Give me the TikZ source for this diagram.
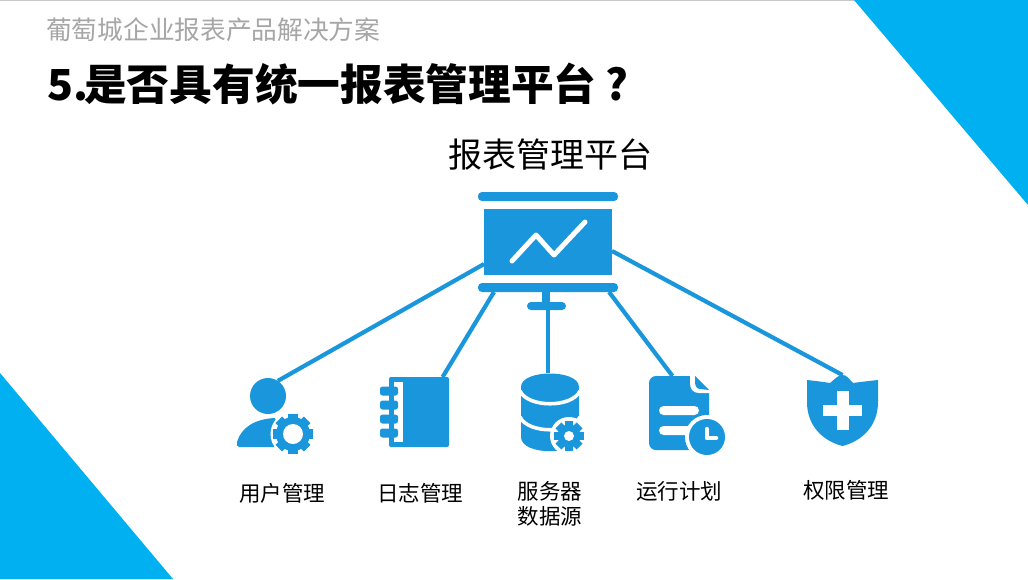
\documentclass[tikz,border=0pt]{standalone}
\usepackage{fontspec}
\setmainfont{Noto Sans CJK SC}
\usetikzlibrary{positioning,calc}
\definecolor{cyanbg}{HTML}{00B0F0}
\definecolor{icoblue}{HTML}{1996DC}
\definecolor{subgray}{HTML}{A6A6A6}
\tikzset{
  ico/.style={fill=icoblue,draw=none,inner sep=0pt,outer sep=0pt},
  bar/.style={ico,rounded corners=4pt,minimum width=140pt,minimum height=9pt},
  ghost/.style={inner sep=0pt,outer sep=0pt,draw=none},
  lnk/.style={draw=icoblue,line width=4.2pt},
  lbl/.style={font=\fontsize{21.5}{25}\selectfont,align=center,inner sep=0pt},
  gap/.style={draw=white,line width=3.6pt,line cap=round},
}
% tooth ring: centre x, centre y, tip radius, root radius, half width
\newcommand{\gearring}[5]{
  \foreach \a in {0,45,...,315}
    \fill[icoblue,rotate around={\a:(#1,#2)}] (#1-#5,#2-#3) rectangle (#1+#5,#2);
  \fill[icoblue] (#1,#2) circle[radius=#4];
}
\begin{document}
\begin{tikzpicture}[x=1pt,y=-1pt]
  \useasboundingbox (0,0) rectangle (1028,579);
  \fill[white] (0,0) rectangle (1028,579);
  \fill[black!22] (0,0) rectangle (1028,1);
  \fill[cyanbg] (854,0) -- (1028,0) -- (1028,205) -- cycle;
  \fill[cyanbg] (0,373) -- (173,579) -- (0,579) -- cycle;

  \node[anchor=west,inner sep=0pt,text=subgray,font=\fontsize{25.7}{30}\selectfont] (sub) at (46,30) {葡萄城企业报表产品解决方案};
  \node[anchor=west,inner sep=0pt,font=\fontsize{42.7}{50}\selectfont\bfseries] (title) at (47,84) {5.\hspace{-4pt}是否具有统一报表管理平台\hspace{9pt}?};
  \node[inner sep=0pt,font=\fontsize{34}{40}\selectfont] (head) at (550,155) {报表管理平台};

  % board
  \node[ico,minimum width=128pt,minimum height=66pt] (board) at (548,242) {};
  \node[bar,above=8pt of board] (topbar) {};
  \node[bar,below=8pt of board] (lowbar) {};
  \node[ico,rounded corners=4pt,minimum width=39pt,minimum height=8pt] (foot) at (546.5,306) {};
  \fill[icoblue] (542,290) rectangle (550,304);
  \draw[white,line width=5pt,line cap=round,line join=round] (512,261) -- (536,235) -- (554,255) -- (585,222);

  % icon anchors
  \node[ico,circle,minimum size=36pt] (user) at (268,396) {};
  \node[ico,rounded corners=2pt,minimum width=60pt,minimum height=70pt] (note) at (419,412) {};
  \node[ghost,minimum width=58pt,minimum height=78pt] (db) at (550,412) {};
  \node[ico,rounded corners=7pt,minimum width=60pt,minimum height=74pt] (doc) at (679,413) {};
  \node[ghost,minimum width=72pt,minimum height=71pt] (shield) at (842.5,410.5) {};

  \draw[lnk] (board.199.8) -- (user.57);
  \draw[lnk] ($(lowbar.south west)!0.114!(lowbar.south east)$) -- (note.56);
  \draw[lnk] (foot.south -| 548,0) -- (db.north -| 548,0);
  \draw[lnk] ($(lowbar.south west)!0.936!(lowbar.south east)$) -- (doc.100.7);
  \draw[lnk] (board.-8) -- (shield.north);

  % user
  \fill[icoblue] (237,442) .. controls (241,428) and (254,419) .. (275,418) -- (284,447) -- (240,447) .. controls (237,447) and (236,444) .. (237,442) -- cycle;
  \fill[white] (293,434) circle[radius=22.5];
  \gearring{293}{434}{20}{17}{4.7}
  \fill[white] (293,434) circle[radius=10];

  % notebook
  \fill[white] (394,382) rectangle (403,442);
  \foreach \ty in {391,405,419,433}
    \fill[icoblue,rounded corners=2.5pt] (380,\ty-4.5) rectangle (398,\ty+4.5);

  % database
  \fill[icoblue] (521,387) .. controls (521,369) and (579,369) .. (579,387) -- (579,437) .. controls (579,456) and (521,456) .. (521,437) -- cycle;
  \draw[gap,line cap=butt] (520,391) .. controls (528,408) and (572,408) .. (580,391);
  \draw[gap,line cap=butt] (520,417) .. controls (528,434) and (572,434) .. (580,417);
  \fill[white] (569,436) circle[radius=19];
  \gearring{569}{436}{15}{11.5}{4.2}
  \fill[white] (569,436) circle[radius=5];

  % document
  \fill[white] (690,374) -- (711,374) -- (711,393) -- (699,393) .. controls (693,393) and (690,389) .. (690,383) -- cycle;
  \fill[icoblue] (695,376) -- (709,390) -- (700,389) .. controls (697,389) and (695,386) .. (695,382) -- cycle;
  \fill[white,rounded corners=4.5pt] (659,406) rectangle (699,415);
  \fill[white,rounded corners=4.5pt] (659,426) rectangle (695,435);
  \fill[white] (707,437) circle[radius=22];
  \fill[icoblue] (707,437) circle[radius=18];
  \draw[white,line width=4.5pt,line cap=round,line join=round] (707,429) -- (707,438) -- (716,438);

  % shield
  \fill[icoblue] (807,380) .. controls (816,381) and (824,382) .. (830,383) .. controls (835,379) and (838,375) .. (842.5,375) .. controls (847,375) and (849,379) .. (853,383) .. controls (860,382) and (869,381) .. (878,380) -- (878,402) .. controls (878,426) and (862,441) .. (842.5,446) .. controls (823,441) and (807,426) .. (807,402) -- cycle;
  \fill[white] (836.5,391) rectangle (848.5,430);
  \fill[white] (823,404.5) rectangle (862,416);

  \node[lbl] (l1) at (282,493) {用户管理};
  \node[lbl] (l2) at (420,493) {日志管理};
  \node[lbl] (l3) at (550,503.5) {服务器\\数据源};
  \node[lbl] (l4) at (679,491) {运行计划};
  \node[lbl] (l5) at (846,490) {权限管理};
\end{tikzpicture}
\end{document}
